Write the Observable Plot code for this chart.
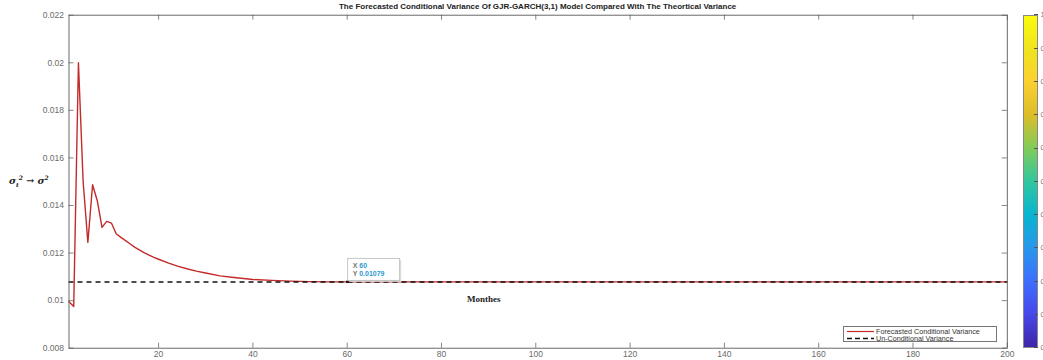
<!DOCTYPE html>
<html><head><meta charset="utf-8">
<script src="https://cdn.jsdelivr.net/npm/d3@7"></script>
<script src="https://cdn.jsdelivr.net/npm/@observablehq/plot@0.6"></script>
<style>
body{margin:0;background:#fff;overflow:hidden}
#wrap{position:relative;width:1043px;height:360px;overflow:hidden;font-family:"Liberation Sans",Arial,sans-serif}
#wrap > svg{position:absolute;left:0;top:0}
.ov{position:absolute;white-space:nowrap}
</style></head><body><div id="wrap"></div>
<script>
// ---- data ----
const months = [1,2,3,4,5,6,7,8,9,10,11,12,13,14,15,16,17,18,19,20,22,24,26,28,30,33,36,40,44,48,52,56,60,100,150,200];
const condVar = [0.00995,0.00975,0.0200,0.0150,0.01245,0.01487,0.01420,0.01308,0.01333,0.01326,0.01281,0.01266,0.01252,0.01238,0.01224,0.01212,0.01201,0.01191,0.01182,0.01174,0.01159,0.01145,0.01134,0.01124,0.01116,0.01104,0.01097,0.01089,0.01085,0.01082,0.01080,0.01079,0.01079,0.01079,0.01079,0.01079];
const uncondVar = 0.01078;
const xTicks = [20,40,60,80,100,120,140,160,180,200];
const xTickLabels = ["20","40","60","80","100","120","140","160","180","200"];
const yTicks = [0.008,0.010,0.012,0.014,0.016,0.018,0.020,0.022];
const yTickLabels = ["0.008","0.01","0.012","0.014","0.016","0.018","0.02","0.022"];
const titleText = "The Forecasted Conditional Variance Of GJR-GARCH(3,1) Model Compared With The Theortical Variance";
const seriesNames = ["Forecasted Conditional Variance","Un-Conditional Variance"];
const xLabel = "Monthes";
const tipPoint = {x: 60, y: 0.01079};
const cbTicks = [0,0.1,0.2,0.3,0.4,0.5,0.6,0.7,0.8,0.9,1];
const cbTickLabels = ["0","0.1","0.2","0.3","0.4","0.5","0.6","0.7","0.8","0.9","1"];

// ---- build ----
const condRows = months.map((m,i)=>({m, v: condVar[i]}));
const W = 1043, H = 360;
const mL = 68.5, mR = 36.2, mT = 14.7, mB = 12.3;
const fw = W - mL - mR, fh = H - mT - mB;
const red = "#c42a2a";
const ff = '"Liberation Sans", Arial, sans-serif';

const plot = Plot.plot({
  width: W, height: H,
  marginLeft: mL, marginRight: mR, marginTop: mT, marginBottom: mB,
  style: {fontFamily: ff, background: "transparent", overflow: "visible"},
  x: {domain: [1, 200], axis: null},
  y: {domain: [0.008, 0.022], axis: null},
  marks: [
    Plot.axisX(xTicks, {anchor: "bottom", tickSize: 0, tickPadding: 2.5, tickFormat: (d,i)=>xTickLabels[i], fontSize: 8.5, fill: "#6b6b6b", label: null}),
    Plot.axisY(yTicks, {anchor: "left", tickSize: 0, tickPadding: 5, tickFormat: (d,i)=>yTickLabels[i], fontSize: 8.5, fill: "#6b6b6b", label: null}),
    Plot.tickX(xTicks, {x: d=>d, insetTop: fh-5, stroke: "#666", strokeWidth: 0.8}),
    Plot.tickX(xTicks, {x: d=>d, insetBottom: fh-5, stroke: "#666", strokeWidth: 0.8}),
    Plot.tickY(yTicks, {y: d=>d, insetRight: fw-5, stroke: "#666", strokeWidth: 0.8}),
    Plot.tickY(yTicks, {y: d=>d, insetLeft: fw-5, stroke: "#666", strokeWidth: 0.8}),
    Plot.line(condRows, {x: "m", y: "v", stroke: red, strokeWidth: 1.4}),
    Plot.ruleY([uncondVar], {x1: 1, x2: 200, stroke: "#111", strokeWidth: 1.5, strokeDasharray: "5,4"}),
    Plot.frame({stroke: "#5a5a5a", strokeWidth: 0.9}),
    Plot.dot([tipPoint], {x: "x", y: "y", r: 1.3, fill: "#111"})
  ]
});
const wrap = document.getElementById("wrap");
wrap.appendChild(plot);

// datatip using the plot's scales
const sx = plot.scale("x"), sy = plot.scale("y");
const px = sx.apply(tipPoint.x), py = sy.apply(tipPoint.y);
const svg = d3.select(plot);
const g = svg.append("g").attr("transform", `translate(${px+1},${py-23})`)
  .attr("text-anchor", "start").attr("font-family", ff).attr("font-size", 7).attr("font-weight", "bold");
g.append("rect").attr("x",1.5).attr("y",1.5).attr("width",52).attr("height",22).attr("fill","#ddd");
g.append("rect").attr("width",52).attr("height",22).attr("fill","#fff").attr("stroke","#b8b8b8").attr("stroke-width",0.8);
const t1 = g.append("text").attr("x",5).attr("y",9.5);
t1.append("tspan").attr("fill","#777").text("X ");
t1.append("tspan").attr("fill","#2b9ad0").text(String(tipPoint.x));
const t2 = g.append("text").attr("x",5).attr("y",18);
t2.append("tspan").attr("fill","#777").text("Y ");
t2.append("tspan").attr("fill","#2b9ad0").text(String(tipPoint.y));

// title
const title = document.createElement("div");
title.className = "ov";
title.style.cssText = `left:${mL}px;width:${fw}px;top:2px;text-align:center;font-size:8px;font-weight:bold;color:#222`;
title.textContent = titleText;
wrap.appendChild(title);

// y label
const yl = document.createElement("div");
yl.className = "ov";
yl.style.cssText = "left:9px;top:174px;font-family:'DejaVu Serif','Liberation Serif',serif;font-style:italic;font-weight:bold;font-size:9.5px;color:#222";
yl.innerHTML = 'σ<sub style="font-size:6px">t</sub><sup style="font-size:6px">2</sup> → σ<sup style="font-size:6px">2</sup>';
wrap.appendChild(yl);

// x label
const xl = document.createElement("div");
xl.className = "ov";
xl.style.cssText = "left:467px;top:294px;font-family:'Liberation Serif','Times New Roman',serif;font-weight:bold;font-size:9px;color:#222";
xl.textContent = xLabel;
wrap.appendChild(xl);

// legend
const leg = document.createElement("div");
leg.className = "ov";
leg.style.cssText = "left:843px;top:326px;width:154px;height:16px;border:0.8px solid #777;background:#fff;font-size:7.2px;color:#333;padding-top:0.5px;box-sizing:border-box";
const samples = [`<svg width="30" height="7" style="display:inline-block;vertical-align:middle"><line x1="3" y1="3.5" x2="31" y2="3.5" stroke="${red}" stroke-width="1.2"/></svg>`,
  `<svg width="30" height="7" style="display:inline-block;vertical-align:middle"><line x1="3" y1="3.5" x2="31" y2="3.5" stroke="#111" stroke-width="1.3" stroke-dasharray="5,3"/></svg>`];
leg.innerHTML = seriesNames.map((n,i)=>`<div style="height:7.3px;line-height:7.3px;display:flex;align-items:center">${samples[i]}<span style="margin-left:2px">${n}</span></div>`).join("");
wrap.appendChild(leg);

// colorbar (parula)
const parula = ["#3e26a8","#4747eb","#3e6ffe","#2797eb","#08b5d0","#31c69f","#80cc59","#dcbd29","#fccf30","#f0e41d","#f9fb0e"];
const cb = document.createElement("div");
cb.className = "ov";
cb.style.cssText = `left:1022.5px;top:${mT}px;width:15px;height:${fh}px;border:0.6px solid #888;box-sizing:border-box;background:linear-gradient(to top, ${parula.join(",")})`;
wrap.appendChild(cb);
cbTicks.forEach((t,i)=>{
  const y = mT + fh*(1-t);
  const tk = document.createElement("div");
  tk.className = "ov";
  tk.style.cssText = `left:1034px;top:${y-0.4}px;width:3.5px;height:0.8px;background:#555`;
  wrap.appendChild(tk);
  const lb = document.createElement("div");
  lb.className = "ov";
  lb.style.cssText = `left:1040.5px;top:${y-4.5}px;font-size:7.5px;color:#777`;
  lb.textContent = cbTickLabels[i];
  wrap.appendChild(lb);
});
</script></body></html>
